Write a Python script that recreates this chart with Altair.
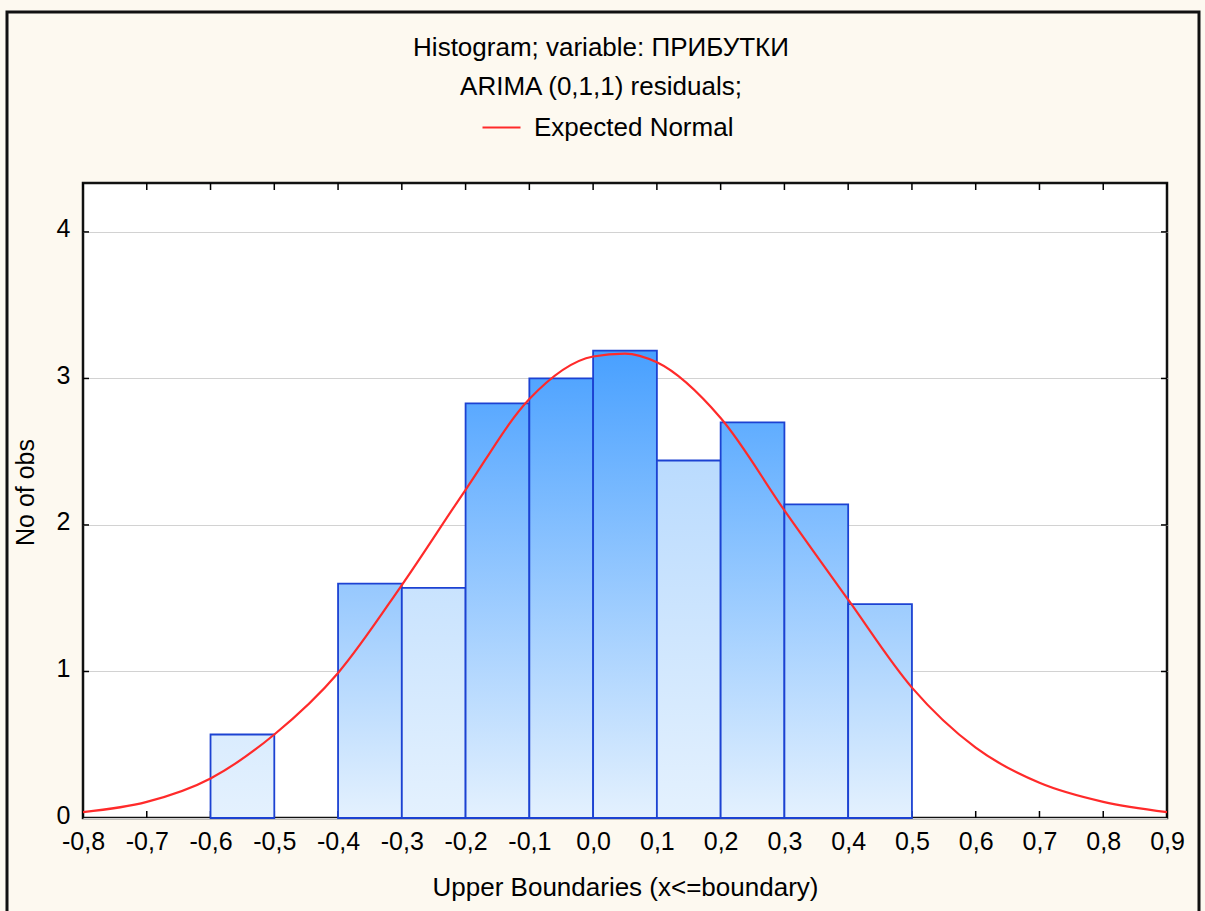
import altair as alt
import pandas as pd

# ---------------- data ----------------
bin_lo = [-0.6, -0.4, -0.3, -0.2, -0.1, 0.0, 0.1, 0.2, 0.3, 0.4]
bin_hi = [-0.5, -0.3, -0.2, -0.1, 0.0, 0.1, 0.2, 0.3, 0.4, 0.5]
counts = [0.57, 1.60, 1.57, 2.83, 3.00, 3.19, 2.44, 2.70, 2.14, 1.46]

curve_x = [-0.8, -0.7, -0.6, -0.5, -0.4, -0.3, -0.2, -0.1, 0.0, 0.05, 0.1,
           0.2, 0.3, 0.4, 0.5, 0.6, 0.7, 0.8, 0.9]
curve_y = [0.04, 0.11, 0.27, 0.57, 0.99, 1.59, 2.24, 2.86, 3.15, 3.17, 3.11,
           2.73, 2.10, 1.49, 0.89, 0.48, 0.24, 0.11, 0.04]

x_ticks = [-0.8, -0.7, -0.6, -0.5, -0.4, -0.3, -0.2, -0.1, 0.0, 0.1, 0.2,
           0.3, 0.4, 0.5, 0.6, 0.7, 0.8, 0.9]
y_ticks = [0, 1, 2, 3, 4]

title_lines = ["Histogram; variable: ПРИБУТКИ", "ARIMA (0,1,1) residuals;"]
legend_label = "Expected Normal"
x_title = "Upper Boundaries (x<=boundary)"
y_title = "No of obs"

# ---------------- style ----------------
W, H = 1084, 635
FONT = "Liberation Sans"
BG = "#FDF9F0"
BAR_STROKE = "#1C42D2"
CURVE = "#FF2A2A"
TOP_DARK = (72, 160, 255)
BOTTOM = (228, 241, 254)
Y_MAX = 4.334
faded = [True, False, True, False, False, False, True, False, False, False]
LBL = 25
TTL = 26


def mix(t):
    r = [round(BOTTOM[i] + (TOP_DARK[i] - BOTTOM[i]) * t) for i in range(3)]
    return "#%02x%02x%02x" % tuple(r)


xs = alt.Scale(domain=[-0.8, 0.9], nice=False, zero=False)
ys = alt.Scale(domain=[0, Y_MAX], nice=False)

x_enc = alt.X("lo:Q", scale=xs,
              axis=alt.Axis(values=x_ticks, title=x_title, ticks=False, domain=False,
                            grid=False, labelFontSize=LBL, labelPadding=11,
                            labelExpr="replace(replace(format(datum.value, '.1f'), '.', ','), '\u2212', '-')",
                            labelColor="#000", labelFont=FONT, titleFont=FONT,
                            titleFontSize=TTL, titleFontWeight="normal", titleColor="#000",
                            titleY=69, titleBaseline="middle", labelFlush=False,
                            labelOverlap=False))
y_enc = alt.Y("n:Q", scale=ys,
              axis=alt.Axis(values=y_ticks, title=y_title, ticks=False, domain=False,
                            grid=True, gridColor="#d2d2d2", gridWidth=1.2, format="d",
                            labelFontSize=LBL, labelPadding=13, labelOffset=-3,
                            labelColor="#000",
                            labelFont=FONT, titleFont=FONT, titleFontSize=TTL - 1,
                            titleFontWeight="normal", titleColor="#000",
                            titleAngle=270, titleX=-58, titleY=309,
                            titleAlign="center", titleBaseline="middle"))

layers = []

# inner tick marks
tick_df = pd.DataFrame({"v": x_ticks})
ytick_df = pd.DataFrame({"v": [t for t in y_ticks if t > 0]})
layers.append(alt.Chart(tick_df).mark_rule(color="#000", strokeWidth=1.5).encode(
    x=alt.X("v:Q", scale=xs), y=alt.value(H - 7), y2=alt.value(H)))
layers.append(alt.Chart(tick_df).mark_rule(color="#000", strokeWidth=1.5).encode(
    x=alt.X("v:Q", scale=xs), y=alt.value(0), y2=alt.value(7)))
layers.append(alt.Chart(ytick_df).mark_rule(color="#000", strokeWidth=1.5).encode(
    y=alt.Y("v:Q", scale=ys), x=alt.value(0), x2=alt.value(6)))
layers.append(alt.Chart(ytick_df).mark_rule(color="#000", strokeWidth=1.5).encode(
    y=alt.Y("v:Q", scale=ys), x=alt.value(W - 6), x2=alt.value(W)))

# bars, each with its own gradient (shade tied to bar height)
for i in range(len(counts)):
    df = pd.DataFrame({"lo": [bin_lo[i]], "hi": [bin_hi[i]], "n": [counts[i]]})
    t = counts[i] / 3.2
    top = mix(t * 0.35) if faded[i] else mix(t)
    grad = alt.Gradient(gradient="linear",
                        stops=[alt.GradientStop(color=top, offset=0),
                               alt.GradientStop(color=mix(0.0), offset=1)],
                        x1=0, x2=0, y1=0, y2=1)
    b = alt.Chart(df).mark_bar(fill=grad, stroke=BAR_STROKE, strokeWidth=1.8).encode(
        x=x_enc if i == 0 else alt.X("lo:Q", scale=xs),
        x2="hi:Q",
        y=y_enc if i == 0 else alt.Y("n:Q", scale=ys),
        y2=alt.datum(0))
    layers.append(b)

# expected normal curve
curve_df = pd.DataFrame({"lo": curve_x, "n": curve_y, "s": [legend_label] * len(curve_x)})
curve = alt.Chart(curve_df).mark_line(strokeWidth=2.2, interpolate="monotone").encode(
    x=alt.X("lo:Q", scale=xs),
    y=alt.Y("n:Q", scale=ys),
    color=alt.Color("s:N", scale=alt.Scale(domain=[legend_label], range=[CURVE]),
                    legend=alt.Legend(title=None, orient="none", legendX=398, legendY=-76,
                                      symbolType="stroke", symbolSize=1444,
                                      symbolStrokeWidth=2.2, labelFontSize=TTL,
                                      labelFont=FONT, labelColor="#000", labelOffset=12,
                                      labelLimit=0, padding=0)))
layers.append(curve)

# title lines
title_df = pd.DataFrame({"t": title_lines, "k": [0, 1]})
for k, yy in enumerate([-135, -96]):
    layers.append(alt.Chart(title_df[title_df.k == k]).mark_text(
        font=FONT, fontSize=TTL, color="#000", baseline="middle", align="center").encode(
        text="t:N", x=alt.value(518), y=alt.value(yy)))

# outer frame
frame_df = pd.DataFrame({"f": [1]})
layers.append(alt.Chart(frame_df).mark_rect(fill=None, fillOpacity=0, stroke="#111",
                                            strokeWidth=3).encode(
    x=alt.value(-76), x2=alt.value(1116), y=alt.value(-171), y2=alt.value(760)))

chart = alt.layer(*layers).properties(
    width=W, height=H,
    autosize=alt.AutoSizeParams(type="none"),
    padding={"left": 83, "top": 183, "right": 38, "bottom": 93},
    background=BG,
).configure_view(fill="white", stroke="#111", strokeWidth=2.5)

chart.save("out.html", embed_options={"renderer": "svg", "actions": False})
